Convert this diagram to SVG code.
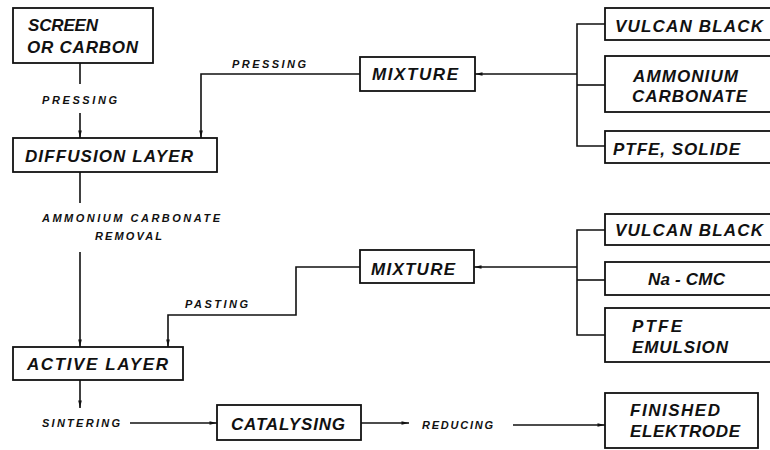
<svg xmlns="http://www.w3.org/2000/svg" width="770" height="450" viewBox="0 0 770 450">
<style>
.box{fill:#fff;stroke:#111;stroke-width:1.8}
.t{font-family:"Liberation Sans","DejaVu Sans",Arial,sans-serif;font-weight:bold;font-style:italic;font-size:17px;fill:#111}
.s{font-family:"Liberation Sans","DejaVu Sans",Arial,sans-serif;font-weight:bold;font-style:italic;font-size:11px;fill:#111}
.ln{fill:none;stroke:#111;stroke-width:1.6}
</style>
<defs>
<marker id="ah" viewBox="0 0 10 6" refX="10" refY="3" markerWidth="8" markerHeight="4.5" markerUnits="userSpaceOnUse" orient="auto">
<path d="M0,0.6 L10,3 L0,5.4 Z" fill="#111"/>
</marker>
</defs>
<rect width="770" height="450" fill="#fff"/>
<g id="connectors">
<line class="ln" x1="80" y1="63" x2="80" y2="84"/>
<line class="ln" x1="80" y1="113" x2="80" y2="138" marker-end="url(#ah)"/>
<polyline class="ln" points="360,74 201,74 201,138" marker-end="url(#ah)"/>
<line class="ln" x1="80" y1="172" x2="80" y2="203"/>
<line class="ln" x1="80" y1="252" x2="80" y2="347" marker-end="url(#ah)"/>
<polyline class="ln" points="360,267 296,267 296,315 168,315 168,347" marker-end="url(#ah)"/>
<line class="ln" x1="80" y1="380" x2="80" y2="408" marker-end="url(#ah)"/>
<line class="ln" x1="130" y1="423" x2="217" y2="423" marker-end="url(#ah)"/>
<line class="ln" x1="361" y1="423" x2="409" y2="423" marker-end="url(#ah)"/>
<line class="ln" x1="513" y1="425" x2="605" y2="425" marker-end="url(#ah)"/>
<line class="ln" x1="577" y1="74" x2="475" y2="74" marker-end="url(#ah)"/>
<polyline class="ln" points="605,24 577,24 577,146 605,146"/>
<line class="ln" x1="577" y1="85" x2="605" y2="85"/>
<line class="ln" x1="577" y1="267" x2="474" y2="267" marker-end="url(#ah)"/>
<polyline class="ln" points="605,230 577,230 577,335 605,335"/>
<line class="ln" x1="577" y1="280" x2="605" y2="280"/>
<text class="s" x="42" y="104" textLength="75" lengthAdjust="spacing">PRESSING</text>
<text class="s" x="232" y="68" textLength="74" lengthAdjust="spacing">PRESSING</text>
<text class="s" x="42" y="222" textLength="178" lengthAdjust="spacing">AMMONIUM  CARBONATE</text>
<text class="s" x="95" y="240" textLength="67" lengthAdjust="spacing">REMOVAL</text>
<text class="s" x="185" y="308" textLength="63" lengthAdjust="spacing">PASTING</text>
<text class="s" x="42" y="427" textLength="78" lengthAdjust="spacing">SINTERING</text>
<text class="s" x="422" y="429" textLength="71" lengthAdjust="spacing">REDUCING</text>
</g>
<g id="screen">
<rect class="box" x="13" y="8" width="140" height="55"/>
<text class="t" x="28" y="31" textLength="70" lengthAdjust="spacing">SCREEN</text>
<text class="t" x="27" y="53" textLength="111" lengthAdjust="spacing">OR CARBON</text>
</g>
<g id="diffusion">
<rect class="box" x="13" y="138" width="204" height="34"/>
<text class="t" x="25" y="162" textLength="168" lengthAdjust="spacing">DIFFUSION LAYER</text>
</g>
<g id="mixture1">
<rect class="box" x="360" y="57" width="115" height="34"/>
<text class="t" x="372" y="80" textLength="86" lengthAdjust="spacing">MIXTURE</text>
</g>
<g id="vulcan1">
<rect class="box" x="605" y="8" width="175" height="32"/>
<text class="t" x="615" y="32" textLength="148" lengthAdjust="spacing">VULCAN BLACK</text>
</g>
<g id="ammonium">
<rect class="box" x="605" y="56" width="175" height="56"/>
<text class="t" x="633" y="82" textLength="105" lengthAdjust="spacing">AMMONIUM</text>
<text class="t" x="632" y="102" textLength="115" lengthAdjust="spacing">CARBONATE</text>
</g>
<g id="ptfe-solide">
<rect class="box" x="605" y="131" width="175" height="32"/>
<text class="t" x="613" y="155" textLength="127" lengthAdjust="spacing">PTFE, SOLIDE</text>
</g>
<g id="mixture2">
<rect class="box" x="360" y="250" width="114" height="33"/>
<text class="t" x="371" y="275" textLength="84" lengthAdjust="spacing">MIXTURE</text>
</g>
<g id="vulcan2">
<rect class="box" x="605" y="214" width="175" height="31"/>
<text class="t" x="615" y="236" textLength="148" lengthAdjust="spacing">VULCAN BLACK</text>
</g>
<g id="nacmc">
<rect class="box" x="605" y="262" width="175" height="33"/>
<text class="t" x="648" y="285" textLength="77" lengthAdjust="spacing">Na - CMC</text>
</g>
<g id="ptfe-emulsion">
<rect class="box" x="605" y="308" width="175" height="54"/>
<text class="t" x="632" y="332" textLength="50" lengthAdjust="spacing">PTFE</text>
<text class="t" x="632" y="353" textLength="96" lengthAdjust="spacing">EMULSION</text>
</g>
<g id="active">
<rect class="box" x="13" y="347" width="170" height="33"/>
<text class="t" x="27" y="370" textLength="141" lengthAdjust="spacing">ACTIVE LAYER</text>
</g>
<g id="catalysing">
<rect class="box" x="217" y="405" width="144" height="35"/>
<text class="t" x="231" y="430" textLength="114" lengthAdjust="spacing">CATALYSING</text>
</g>
<g id="finished">
<rect class="box" x="605" y="393" width="153" height="55"/>
<text class="t" x="630" y="416" textLength="90" lengthAdjust="spacing">FINISHED</text>
<text class="t" x="630" y="437" textLength="110" lengthAdjust="spacing">ELEKTRODE</text>
</g>
</svg>
